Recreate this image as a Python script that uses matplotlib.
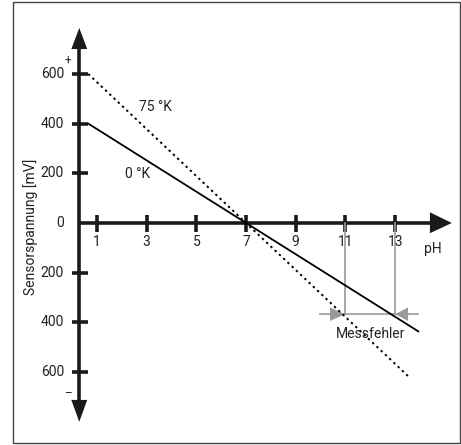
import numpy as np
import matplotlib
matplotlib.use("Agg")
import matplotlib.pyplot as plt
from matplotlib.patches import Polygon, Rectangle

plt.rcParams['font.family'] = ['Liberation Sans Narrow', 'Roboto', 'DejaVu Sans']

# data
ph_ticks = [1, 3, 5, 7, 9, 11, 13]
mv_ticks = [600, 400, 200, 0, -200, -400, -600]
mv_labels = ["600", "400", "200", "0", "200", "400", "600"]

ph_start = 0.65
line_0K = [(ph_start, 400), (13.93, -436)]     # 0 °K
line_75K = [(ph_start, 600), (13.56, -620)]    # 75 °K
err_ph = [11, 13]
err_mv = -367

fig = plt.figure(figsize=(4.61, 4.45), dpi=100)
ax = fig.add_axes([0, 0, 1, 1])
ax.set_xlim(-2.90, 15.65)
ax.set_ylim(-893.4, 897.4)
ax.axis('off')

# frame around the figure
fig.patches.append(Rectangle((13 / 461, 2 / 445), 447 / 461, 441 / 445, transform=fig.transFigure,
                             fill=False, edgecolor='#444444', linewidth=1.0))

ax_x = 0.29
k = '#1a1a1a'
t = '#222222'
fs = 10
# axes
ax.plot([ax_x, ax_x], [-712, 700], color=k, lw=2.6, solid_capstyle='butt')
ax.plot([ax_x, 14.40], [0, 0], color=k, lw=2.6, solid_capstyle='butt')
ax.add_patch(Polygon([[-0.03, 700], [0.61, 700], [ax_x, 785]], closed=True, color=k, lw=0))
ax.add_patch(Polygon([[-0.03, -712], [0.61, -712], [ax_x, -800]], closed=True, color=k, lw=0))
ax.add_patch(Polygon([[14.40, 43], [14.40, -41], [15.28, 0]], closed=True, color=k, lw=0))

# ticks
for v, lab in zip(mv_ticks, mv_labels):
    if v != 0:
        ax.plot([-0.0, 0.64], [v, v], color=k, lw=2.6, solid_capstyle='butt')
    ax.text(-0.32, v, lab, ha='right', va='center', fontsize=fs, color=t)
for p in ph_ticks:
    ax.plot([p, p], [33, -36], color=k, lw=2.6, solid_capstyle='butt')
    ax.text(p, -50, str(p), ha='center', va='top', fontsize=fs, color=t)

ax.text(-0.18, 650, "+", ha='center', va='center', fontsize=8.5, color=t)
ax.text(-0.18, -685, "–", ha='center', va='center', fontsize=8.5, color=t)
ax.text(14.5, -105, "pH", ha='center', va='center', fontsize=fs, color=t)
ax.text(-1.68, -15, "Sensorspannung [mV]", rotation=90, ha='center', va='center',
        fontsize=fs, color=t)

# measurement error markers (gray)
g = '#999999'
for p in err_ph:
    ax.plot([p, p], [0, err_mv], color=g, lw=1.2)
ax.plot([9.98, 13.92], [err_mv, err_mv], color=g, lw=1.2)
ax.add_patch(Polygon([[10.38, err_mv + 27], [10.38, err_mv - 27], [11, err_mv]], closed=True, color=g, lw=0))
ax.add_patch(Polygon([[13.52, err_mv + 27], [13.52, err_mv - 27], [13, err_mv]], closed=True, color=g, lw=0))

# sensor lines
ax.plot(*zip(*line_0K), color='black', lw=1.3)
ax.plot(*zip(*line_75K), color='black', lw=1.4, linestyle=(0, (1.2, 1.8)))

ax.text(3.34, 467, "75 °K", ha='center', va='center', fontsize=fs, color=t)
ax.text(2.65, 197, "0 °K", ha='center', va='center', fontsize=fs, color=t)
ax.text(12.0, -447, "Messfehler", ha='center', va='center', fontsize=fs, color=t)

fig.savefig("out.png", dpi=100)
